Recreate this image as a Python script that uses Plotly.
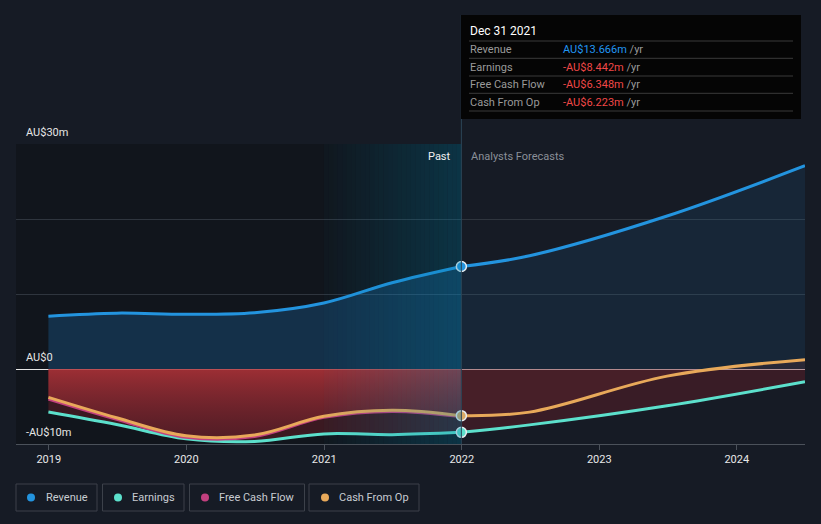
import plotly.graph_objects as go
import pandas as pd

# ---------------- data ----------------
past_dates = ["2018-12-31", "2019-06-30", "2019-12-31", "2020-06-30",
              "2020-12-31", "2021-06-30", "2021-12-31"]
forecast_dates = ["2021-12-31", "2022-06-30", "2023-06-30", "2024-06-30"]

revenue_past = [7.05, 7.45, 7.3, 7.5, 8.8, 11.5, 13.666]
revenue_forecast = [13.666, 15.1, 20.4, 27.1]
earnings_past = [-5.73, -7.4, -9.3, -9.65, -8.65, -8.75, -8.442]
earnings_forecast = [-8.442, -7.45, -4.9, -1.7]
fcf_past = [-4.0, -6.7, -9.1, -9.0, -6.45, -5.65, -6.348]
cfo_past = [-3.78, -6.5, -8.9, -8.8, -6.3, -5.5, -6.223]
cfo_forecast = [-6.223, -5.75, -0.95, 1.25]

year_ticks = ["2019-01-01", "2020-01-01", "2021-01-01",
              "2022-01-01", "2023-01-01", "2024-01-01"]
year_labels = ["2019", "2020", "2021", "2022", "2023", "2024"]
y_grid = [-10, 0, 10, 20, 30]
y_label_vals = [30, 0, -10]
y_label_text = ["AU$30m", "AU$0", "-AU$10m"]

series_names = ["Revenue", "Earnings", "Free Cash Flow", "Cash From Op"]
tooltip_date = "Dec 31 2021"
tooltip_values = ["AU$13.666m", "-AU$8.442m", "-AU$6.348m", "-AU$6.223m"]

# ---------------- styles ----------------
FONT = "Roboto"
BG = "#161b25"
PAST_BG = "#11151c"
C_REV = "#2394df"
C_EARN = "#5ce0cc"
C_FCF = "#c2407f"
C_CFO = "#e8a95a"
W, H = 821, 524
ML, MR, MT, MB = 16, 16, 144, 80
PW, PH = W - ML - MR, H - MT - MB
X_START, X_END = "2018-10-06", "2024-06-30"
CUT = "2021-12-31"


def px2x(px):
    return (px - ML) / PW


def px2y(py):
    return (MT + PH - py) / PH


fig = go.Figure()

# ----- fills -----
fig.add_trace(go.Scatter(x=past_dates, y=revenue_past, mode="lines", line=dict(width=0, shape="spline"),
                         fill="tozeroy", fillcolor="rgba(33,150,243,0.21)", hoverinfo="skip"))
fig.add_trace(go.Scatter(x=forecast_dates, y=revenue_forecast, mode="lines", line=dict(width=0, shape="spline"),
                         fill="tozeroy", fillcolor="rgba(33,150,243,0.09)", hoverinfo="skip"))
fig.add_trace(go.Scatter(x=past_dates, y=earnings_past, mode="lines", line=dict(width=0, shape="spline"),
                         fill="tozeroy", fillcolor="rgba(110,30,40,0.45)", hoverinfo="skip"))
fig.add_trace(go.Scatter(x=past_dates, y=cfo_past, mode="lines", line=dict(width=0, shape="spline"),
                         fill="tozeroy",
                         fillgradient=dict(type="vertical", start=-9, stop=0,
                                           colorscale=[[0, "rgba(120,35,45,0.4)"], [1, "rgba(195,55,60,0.72)"]]),
                         hoverinfo="skip"))
fig.add_trace(go.Scatter(x=forecast_dates, y=earnings_forecast, mode="lines", line=dict(width=0, shape="spline"),
                         fill="tozeroy", fillcolor="rgba(110,30,40,0.4)", hoverinfo="skip"))
fig.add_trace(go.Scatter(x=forecast_dates, y=cfo_forecast, mode="lines", line=dict(width=0, shape="spline"),
                         fill="tozeroy", fillcolor="rgba(170,60,60,0.12)", hoverinfo="skip"))

# ----- lines -----
for xs, ys, col in [(past_dates, revenue_past, C_REV), (forecast_dates, revenue_forecast, C_REV),
                    (past_dates, earnings_past, C_EARN), (forecast_dates, earnings_forecast, C_EARN),
                    (past_dates, fcf_past, C_FCF),
                    (past_dates, cfo_past, C_CFO), (forecast_dates, cfo_forecast, C_CFO)]:
    fig.add_trace(go.Scatter(x=xs, y=ys, mode="lines", line=dict(color=col, width=3, shape="spline"),
                             hoverinfo="skip"))

# ----- markers at tooltip date -----
for ys, col in [(earnings_past, C_EARN), (cfo_past, "#d9aa66"), (revenue_past, C_REV)]:
    fig.add_trace(go.Scatter(x=[past_dates[-1]], y=[ys[-1]], mode="markers",
                             marker=dict(color=col, size=10, line=dict(color="#e8eef2", width=1.5)),
                             hoverinfo="skip"))

shapes = []
# past background
shapes.append(dict(type="rect", xref="x", yref="paper", x0=X_START, x1=CUT, y0=0, y1=1,
                   fillcolor=PAST_BG, line=dict(width=0), layer="below"))
# last-year highlight band (gradient overlay)
band = pd.date_range("2020-12-31", CUT, periods=31)
n = len(band) - 1
for i in range(n):
    a = 0.03 + 0.27 * i / (n - 1)
    shapes.append(dict(type="rect", xref="x", yref="paper", x0=band[i], x1=band[i + 1], y0=0, y1=1,
                       fillcolor=f"rgba(0,125,165,{a:.3f})", line=dict(width=0), layer="above"))
# vertical marker line
shapes.append(dict(type="line", xref="x", yref="paper", x0=CUT, x1=CUT, y0=0, y1=px2y(15),
                   line=dict(color="#2c4658", width=1), layer="above"))
# tooltip box
shapes.append(dict(type="rect", xref="paper", yref="paper", x0=px2x(461), x1=px2x(801),
                   y0=px2y(119), y1=px2y(15), fillcolor="#050505", line=dict(width=0), layer="above"))
for sy in [41, 58.3, 76, 93.3, 111]:
    shapes.append(dict(type="line", xref="paper", yref="paper", x0=px2x(469), x1=px2x(793),
                       y0=px2y(sy), y1=px2y(sy), line=dict(color="#3a3a3a", width=1), layer="above"))

# legend boxes
legend_boxes = [(16, 97), (102.5, 184), (189.5, 304.5), (309, 419)]
legend_dots = [31, 118, 205, 325]
legend_text_x = [44, 130, 216.5, 337]
legend_cols = [C_REV, C_EARN, C_FCF, C_CFO]
for (bx0, bx1), dx, col in zip(legend_boxes, legend_dots, legend_cols):
    shapes.append(dict(type="rect", xref="paper", yref="paper", x0=px2x(bx0), x1=px2x(bx1),
                       y0=px2y(511), y1=px2y(484), line=dict(color="#3c414a", width=1),
                       fillcolor="rgba(0,0,0,0)"))
    shapes.append(dict(type="circle", xref="paper", yref="paper", x0=px2x(dx - 4), x1=px2x(dx + 4),
                       y0=px2y(501.5), y1=px2y(493.5), line=dict(width=0), fillcolor=col))

annotations = []
for v, t in zip(y_label_vals, y_label_text):
    annotations.append(dict(xref="paper", yref="y", x=px2x(24), y=v, text=t, showarrow=False,
                            xanchor="left", yanchor="middle", yshift=12,
                            font=dict(family=FONT, size=11, color="#e6e6e6")))
annotations.append(dict(xref="paper", yref="paper", x=px2x(453), y=px2y(156), text="Past", showarrow=False,
                        xanchor="right", yanchor="middle", font=dict(family=FONT, size=11, color="#f0f0f0")))
annotations.append(dict(xref="paper", yref="paper", x=px2x(469), y=px2y(156), text="Analysts Forecasts",
                        showarrow=False, xanchor="left", yanchor="middle",
                        font=dict(family=FONT, size=11, color="#8a8f98")))
# tooltip text
annotations.append(dict(xref="paper", yref="paper", x=px2x(468), y=px2y(31), text=tooltip_date, showarrow=False,
                        xanchor="left", yanchor="middle", font=dict(family=FONT, size=12, color="#ffffff")))
val_cols = ["#2196f3", "#f04848", "#f04848", "#f04848"]
for row_y, name, val, vc in zip([49.5, 67, 84.5, 102], series_names, tooltip_values, val_cols):
    annotations.append(dict(xref="paper", yref="paper", x=px2x(468), y=px2y(row_y), text=name,
                            showarrow=False, xanchor="left", yanchor="middle",
                            font=dict(family=FONT, size=11, color="#9a9a9a")))
    annotations.append(dict(xref="paper", yref="paper", x=px2x(561), y=px2y(row_y),
                            text=f'<span style="color:{vc}">{val}</span> /yr',
                            showarrow=False, xanchor="left", yanchor="middle",
                            font=dict(family=FONT, size=11, color="#9a9a9a")))
# legend text
for tx, name in zip(legend_text_x, series_names):
    annotations.append(dict(xref="paper", yref="paper", x=px2x(tx), y=px2y(497.5), text=name,
                            showarrow=False, xanchor="left", yanchor="middle",
                            font=dict(family=FONT, size=11, color="#c8ccd2")))

fig.update_layout(
    width=W, height=H, autosize=False,
    margin=dict(l=ML, r=MR, t=MT, b=MB, pad=0),
    paper_bgcolor=BG, plot_bgcolor=BG,
    showlegend=False, hovermode=False,
    font=dict(family=FONT, size=11, color="#e6e6e6"),
    shapes=shapes, annotations=annotations,
    xaxis=dict(type="date", range=[X_START, X_END], showgrid=False, zeroline=False,
               tickvals=year_ticks, ticktext=year_labels, ticks="outside", ticklen=5,
               tickcolor="#4b515a", showline=True, linecolor="#4b515a", linewidth=1,
               tickfont=dict(family=FONT, size=11, color="#e8e8e8"), fixedrange=True),
    yaxis=dict(range=[-10, 30], tickvals=y_grid, showticklabels=False, showgrid=True,
               gridcolor="#2f353e", gridwidth=1, zeroline=True, zerolinecolor="#e6e6e6",
               zerolinewidth=1, showline=False, fixedrange=True),
)

fig.write_html("out.html", config={"displayModeBar": False},
               post_script="document.body.style.margin='0';document.body.style.background='" + BG + "';")
